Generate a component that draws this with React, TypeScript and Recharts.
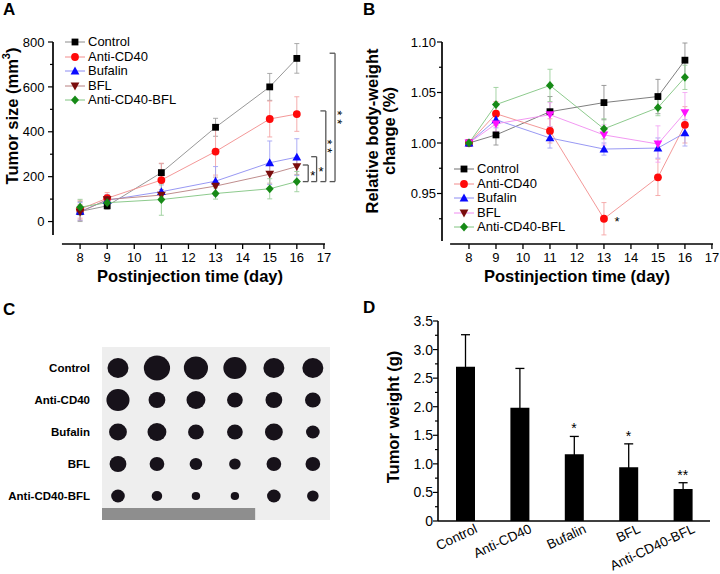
import React from 'react';
import {
  LineChart, Line, XAxis, YAxis, ZAxis, ErrorBar, ReferenceLine, ReferenceDot, ReferenceArea,
  Legend, ComposedChart, Bar, Scatter, ScatterChart, LabelList,
} from 'recharts';

const FONT = '"Liberation Sans", Arial, Helvetica, sans-serif';

// shared
const days = [8, 9, 11, 13, 15, 16];
const groups = ['Control', 'Anti-CD40', 'Bufalin', 'BFL', 'Anti-CD40-BFL'];

// A: tumor size (mm3), mean and error
const sizeControl = [45, 70, 218, 420, 600, 727];
const sizeAntiCD40 = [55, 104, 185, 312, 457, 479];
const sizeBufalin = [45, 95, 133, 180, 262, 287];
const sizeBFL = [42, 98, 118, 158, 211, 245];
const sizeCombo = [64, 84, 98, 125, 146, 178];
const sizeControlErr = [45, 15, 40, 40, 60, 66];
const sizeAntiCD40Err = [40, 25, 75, 105, 80, 77];
const sizeBufalinErr = [40, 25, 30, 65, 97, 82];
const sizeBFLErr = [35, 20, 25, 40, 40, 35];
const sizeComboErr = [35, 20, 70, 25, 45, 45];

// A: significance brackets at day 16 (x, top, label)
const bracketX = [17.41, 17.07, 16.73, 16.42];
const bracketTop = [750, 493, 289, 252];
const bracketBottom = 178;
const bracketStars = ['**', '**', '*', '*'];

// B: relative body weight
const bwControl = [1.0, 1.008, 1.031, 1.040, 1.046, 1.082];
const bwAntiCD40 = [1.0, 1.029, 1.012, 0.925, 0.966, 1.018];
const bwBufalin = [1.0, 1.023, 1.005, 0.994, 0.995, 1.010];
const bwBFL = [1.0, 1.019, 1.028, 1.008, 0.999, 1.030];
const bwCombo = [1.0, 1.038, 1.057, 1.014, 1.035, 1.065];
const bwControlErr = [0, 0.010, 0.015, 0.017, 0.017, 0.017];
const bwAntiCD40Err = [0, 0.012, 0.012, 0.016, 0.018, 0.018];
const bwBufalinErr = [0, 0.008, 0.010, 0.006, 0.010, 0.013];
const bwBFLErr = [0, 0.008, 0.012, 0.010, 0.018, 0.020];
const bwComboErr = [0, 0.017, 0.016, 0.010, 0.008, 0.012];

// C: tumor diameters (mm), 6 mice per group
const diamControl = [20, 25, 23, 22, 20, 20];
const diamAntiCD40 = [22, 16, 18, 15, 16, 15];
const diamBufalin = [17, 18, 15, 15, 17, 13];
const diamBFL = [16, 14, 12, 11, 14, 14];
const diamCombo = [13, 10, 8, 8, 13, 11];

// D: tumor weight (g)
const weightD = [2.70, 1.98, 1.17, 0.94, 0.56];
const weightErrD = [0.56, 0.69, 0.31, 0.41, 0.11];
const starsD = ['', '', '*', '*', '**'];

type Shape = 'square' | 'circle' | 'up' | 'down' | 'diamond';

const seriesA = [
  { key: 'control', name: 'Control', shape: 'square', color: '#000000', line: '#8c8c8c', err: '#a0a0a0', values: sizeControl, errors: sizeControlErr },
  { key: 'anti', name: 'Anti-CD40', shape: 'circle', color: '#ff0a0a', line: '#f28c8c', err: '#f4a4a4', values: sizeAntiCD40, errors: sizeAntiCD40Err },
  { key: 'bufalin', name: 'Bufalin', shape: 'up', color: '#0a0aff', line: '#8c8cf2', err: '#a4a4f4', values: sizeBufalin, errors: sizeBufalinErr },
  { key: 'bfl', name: 'BFL', shape: 'down', color: '#7a0c0c', line: '#b88080', err: '#c8a0a0', values: sizeBFL, errors: sizeBFLErr },
  { key: 'combo', name: 'Anti-CD40-BFL', shape: 'diamond', color: '#168a16', line: '#80c480', err: '#9ccf9c', values: sizeCombo, errors: sizeComboErr },
];

const seriesB = [
  { key: 'control', name: 'Control', shape: 'square', color: '#000000', legend: '#000000', line: '#707070', err: '#909090', values: bwControl, errors: bwControlErr },
  { key: 'anti', name: 'Anti-CD40', shape: 'circle', color: '#ff0a0a', legend: '#ff0a0a', line: '#f28c8c', err: '#f4a4a4', values: bwAntiCD40, errors: bwAntiCD40Err },
  { key: 'bufalin', name: 'Bufalin', shape: 'up', color: '#0a0aff', legend: '#0a0aff', line: '#8c8cf2', err: '#a4a4f4', values: bwBufalin, errors: bwBufalinErr },
  { key: 'bfl', name: 'BFL', shape: 'down', color: '#ff10ff', legend: '#7a0c0c', line: '#f08cf0', err: '#f4a8f4', values: bwBFL, errors: bwBFLErr },
  { key: 'combo', name: 'Anti-CD40-BFL', shape: 'diamond', color: '#168a16', legend: '#168a16', line: '#80c480', err: '#9ccf9c', values: bwCombo, errors: bwComboErr },
];

const buildRows = (series: typeof seriesA) =>
  days.map((day, i) => {
    const row: Record<string, number> = { day };
    series.forEach((s) => {
      row[s.key] = s.values[i];
      row[s.key + 'Err'] = s.errors[i];
    });
    return row;
  });

const rowsA = buildRows(seriesA);
const rowsB = buildRows(seriesB as any);

const diamByGroup = [diamControl, diamAntiCD40, diamBufalin, diamBFL, diamCombo];
const rowsC = diamByGroup.flatMap((list, g) =>
  list.map((d, c) => ({ col: c + 1, row: g + 1, area: d * d })),
);

const rowsD = groups.map((name, i) => ({
  name,
  weight: weightD[i],
  err: weightErrD[i],
  star: starsD[i],
  starY: weightD[i] + weightErrD[i],
}));

const xTicks = [8, 9, 10, 11, 12, 13, 14, 15, 16, 17];
const yTicksA = [0, 100, 200, 300, 400, 500, 600, 700, 800];
const yTicksB = [0.925, 0.95, 0.975, 1.0, 1.025, 1.05, 1.075, 1.1];
const yTicksD = [0, 0.25, 0.5, 0.75, 1, 1.25, 1.5, 1.75, 2, 2.25, 2.5, 2.75, 3, 3.25, 3.5];

function Marker({ cx, cy, shape, fill }: { cx: number; cy: number; shape: Shape | string; fill: string }) {
  if (cx == null || cy == null) return null;
  const s = 3.4;
  if (shape === 'square') return <rect x={cx - s} y={cy - s} width={2 * s} height={2 * s} fill={fill} />;
  if (shape === 'circle') return <circle cx={cx} cy={cy} r={s + 0.5} fill={fill} />;
  if (shape === 'up')
    return <polygon points={`${cx},${cy - s - 1} ${cx + s + 1},${cy + s} ${cx - s - 1},${cy + s}`} fill={fill} />;
  if (shape === 'down')
    return <polygon points={`${cx - s - 1},${cy - s} ${cx + s + 1},${cy - s} ${cx},${cy + s + 1}`} fill={fill} />;
  return <polygon points={`${cx},${cy - s - 1} ${cx + s + 0.6},${cy} ${cx},${cy + s + 1} ${cx - s - 0.6},${cy}`} fill={fill} />;
}

function LegendBox({ items }: { items: { name: string; shape: string; line: string; color: string; legend?: string }[] }) {
  return (
    <div style={{ fontFamily: FONT, fontSize: 13, color: '#000' }}>
      {items.map((it) => (
        <div key={it.name} style={{ display: 'flex', alignItems: 'center', height: 14.5 }}>
          <svg width={20} height={14} style={{ overflow: 'visible' }}>
            <line x1={0} x2={20} y1={7} y2={7} stroke={it.line} strokeWidth={1} />
            <Marker cx={10} cy={7} shape={it.shape} fill={it.legend || it.color} />
          </svg>
          <span style={{ marginLeft: 3, lineHeight: '14px' }}>{it.name}</span>
        </div>
      ))}
    </div>
  );
}

const XTick = (p: any) => (
  <g>
    <line x1={p.x} x2={p.x} y1={p.y} y2={p.y + 5} stroke="#000" strokeWidth={1.3} />
    <text x={p.x} y={p.y + 17.7} textAnchor="middle" fontSize={13} fontFamily={FONT} fill="#000">
      {p.payload.value}
    </text>
  </g>
);

const makeYTick = (fmt: (v: number) => string | null, gap: number, fontSize: number) => (p: any) => {
  const label = fmt(p.payload.value);
  return (
    <g>
      <line x1={p.x - (label ? 5 : 3)} x2={p.x} y1={p.y} y2={p.y} stroke="#000" strokeWidth={1.2} />
      {label && (
        <text x={p.x - gap} y={p.y} dy="0.36em" textAnchor="end" fontSize={fontSize} fontFamily={FONT} fill="#000">
          {label}
        </text>
      )}
    </g>
  );
};

const title = (x: number, y: number, text: React.ReactNode, rotate = false) => (
  <text
    x={x}
    y={y}
    textAnchor="middle"
    dominantBaseline={rotate ? 'central' : 'auto'}
    transform={rotate ? `rotate(-90, ${x}, ${y})` : undefined}
    fontSize={16.5}
    fontWeight="bold"
    fontFamily={FONT}
    fill="#000"
  >
    {text}
  </text>
);

function Stars({ vb, text }: { vb: any; text: string }) {
  const x = vb.x ?? Math.min(vb.x1, vb.x2);
  const y = vb.y ?? Math.min(vb.y1, vb.y2);
  const h = vb.height ?? Math.abs(vb.y2 - vb.y1);
  const mid = y + h / 2;
  if (text.length > 1) {
    // two stars stacked vertically: draw the text turned by 90 degrees
    const tx = x - 2.5;
    return (
      <text x={tx} y={mid} textAnchor="middle" fontSize={13} fontFamily={FONT} fill="#000" transform={`rotate(90, ${tx}, ${mid})`}>
        {text.split('').join(' ')}
      </text>
    );
  }
  return (
    <text x={x + 4.5} y={mid + 7} textAnchor="middle" fontSize={13} fontFamily={FONT} fill="#000">
      {text}
    </text>
  );
}

function PanelA() {
  return (
    <LineChart width={360} height={290} data={rowsA} margin={{ top: 42, right: 35, bottom: 16, left: 0 }}>
      <XAxis
        dataKey="day" type="number" domain={[7, 17.04]} allowDataOverflow ticks={xTicks} interval={0}
        axisLine={false} tickLine={false} tickSize={0} tickMargin={0} height={30} tick={XTick}
        label={{ content: () => title(190, 281.5, 'Postinjection time (day)') }}
      />
      <YAxis
        type="number" domain={[-100, 800]} allowDataOverflow ticks={yTicksA} interval={0} width={53}
        axisLine={false} tickLine={false} tickSize={0} tickMargin={0}
        tick={makeYTick((v) => (v % 200 === 0 ? String(v) : null), 8.5, 13)}
        label={{ content: () => title(12, 116, <>Tumor size (mm<tspan dy={-6} fontSize={11}>3</tspan><tspan dy={6}>)</tspan></>, true) }}
      />
      <ReferenceLine segment={[{ x: 7, y: -60 }, { x: 7, y: 800 }]} stroke="#000" strokeWidth={1.7} ifOverflow="visible" />
      <ReferenceLine segment={[{ x: 7.33, y: -100 }, { x: 17.04, y: -100 }]} stroke="#000" strokeWidth={1.7} ifOverflow="visible" />
      {bracketX.map((bx, i) => (
        <ReferenceLine
          key={`v${i}`}
          segment={[{ x: bx, y: bracketBottom }, { x: bx, y: bracketTop[i] }]}
          stroke="#555" strokeWidth={1.3} ifOverflow="visible"
          label={{ content: (lp: any) => <Stars vb={lp.viewBox} text={bracketStars[i]} /> }}
        />
      ))}
      {bracketX.map((bx, i) => (
        <ReferenceLine key={`t${i}`} segment={[{ x: bx - 0.2, y: bracketTop[i] }, { x: bx, y: bracketTop[i] }]} stroke="#555" strokeWidth={1.3} ifOverflow="visible" />
      ))}
      {bracketX.map((bx, i) => (
        <ReferenceLine key={`b${i}`} segment={[{ x: bx - 0.2, y: bracketBottom }, { x: bx, y: bracketBottom }]} stroke="#555" strokeWidth={1.3} ifOverflow="visible" />
      ))}
      {seriesA.map((s) => (
        <Line
          key={s.key} dataKey={s.key} name={s.name} type="linear" stroke={s.line} strokeWidth={0.9}
          isAnimationActive={false} activeDot={false}
          dot={(p: any) => <Marker key={`${s.key}${p.index}`} cx={p.cx} cy={p.cy} shape={s.shape} fill={s.color} />}
        >
          <ErrorBar dataKey={s.key + 'Err'} width={2.5} stroke={s.err} strokeWidth={0.9} direction="y" />
        </Line>
      ))}
      <Legend
        layout="vertical" align="center" verticalAlign="middle"
        wrapperStyle={{ left: 65, top: 35, width: 150, height: 'auto' }}
        content={() => <LegendBox items={seriesA} />}
      />
    </LineChart>
  );
}

function PanelB() {
  return (
    <LineChart width={360} height={290} data={rowsB} margin={{ top: 42, right: 7, bottom: 16, left: 0 }}>
      <XAxis
        dataKey="day" type="number" domain={[7, 17.04]} allowDataOverflow ticks={xTicks} interval={0}
        axisLine={false} tickLine={false} tickSize={0} tickMargin={0} height={30} tick={XTick}
        label={{ content: () => title(217, 281.5, 'Postinjection time (day)') }}
      />
      <YAxis
        type="number" domain={[0.9, 1.1]} allowDataOverflow ticks={yTicksB} interval={0} width={82}
        axisLine={false} tickLine={false} tickSize={0} tickMargin={0}
        tick={makeYTick((v) => (Math.round(v * 1000) % 50 === 0 ? v.toFixed(2) : null), 6, 13)}
        label={{
          content: () => (
            <g>
              {title(12, 131, 'Relative body-weight', true)}
              {title(29, 131, 'change (%)', true)}
            </g>
          ),
        }}
      />
      <ReferenceLine segment={[{ x: 7, y: 0.903 }, { x: 7, y: 1.1 }]} stroke="#000" strokeWidth={1.7} ifOverflow="visible" />
      <ReferenceLine segment={[{ x: 7.3, y: 0.9 }, { x: 17.04, y: 0.9 }]} stroke="#000" strokeWidth={1.7} ifOverflow="visible" />
      {seriesB.map((s) => (
        <Line
          key={s.key} dataKey={s.key} name={s.name} type="linear" stroke={s.line} strokeWidth={0.9}
          isAnimationActive={false} activeDot={false}
          dot={(p: any) => <Marker key={`${s.key}${p.index}`} cx={p.cx} cy={p.cy} shape={s.shape} fill={s.color} />}
        >
          <ErrorBar dataKey={s.key + 'Err'} width={2.5} stroke={s.err} strokeWidth={0.9} direction="y" />
        </Line>
      ))}
      <ReferenceDot
        x={13.48} y={0.925} r={0} fill="none" stroke="none" ifOverflow="visible"
        label={{
          content: (lp: any) => (
            <text x={lp.viewBox.x} y={lp.viewBox.y + 7} textAnchor="middle" fontSize={13} fontFamily={FONT} fill="#000">*</text>
          ),
        }}
      />
      <Legend
        layout="vertical" align="center" verticalAlign="middle"
        wrapperStyle={{ left: 94, top: 161.75, width: 150, height: 'auto' }}
        content={() => <LegendBox items={seriesB} />}
      />
    </LineChart>
  );
}

function PanelC() {
  return (
    <ScatterChart width={360} height={274} margin={{ top: 47, right: 30, bottom: 54, left: 0 }}>
      <XAxis dataKey="col" type="number" domain={[0.59, 6.44]} allowDataOverflow hide />
      <YAxis
        dataKey="row" type="number" domain={[0.344, 5.75]} allowDataOverflow reversed ticks={[1, 2, 3, 4, 5]}
        interval={0} width={102} axisLine={false} tickLine={false} tickSize={0} tickMargin={12}
        tickFormatter={(v: number) => groups[v - 1]}
        tick={{ fontSize: 11.5, fontWeight: 'bold', fill: '#000', fontFamily: FONT }}
      />
      <ZAxis dataKey="area" type="number" domain={[0, 625]} range={[0, 491]} />
      <ReferenceArea x1={0.59} x2={6.44} y1={0.344} y2={5.75} fill="#eeeeee" fillOpacity={1} stroke="none" ifOverflow="visible" />
      <ReferenceArea x1={0.59} x2={4.52} y1={5.375} y2={5.75} fill="#8e8e8e" fillOpacity={1} stroke="none" ifOverflow="visible" />
      <Scatter
        data={rowsC}
        isAnimationActive={false}
        shape={(p: any) => {
          const r = Math.sqrt((p.size ?? 200) / Math.PI);
          return <ellipse cx={p.cx} cy={p.cy} rx={r * 1.05} ry={r} fill="#17121a" />;
        }}
      />
    </ScatterChart>
  );
}

const DTick = (p: any) => {
  const x = p.x + 13;
  const y = p.y + 11;
  return (
    <text x={x} y={y} textAnchor="end" fontSize={13.5} fontFamily={FONT} fill="#000" transform={`rotate(-25, ${x}, ${y})`}>
      {p.payload.value}
    </text>
  );
};

function PanelD() {
  return (
    <ComposedChart width={360} height={274} data={rowsD} margin={{ top: 21, right: 10, bottom: 0, left: 0 }}>
      <XAxis
        dataKey="name" type="category" height={53} axisLine={{ stroke: '#000', strokeWidth: 1.6 }}
        tickLine={false} tickSize={0} tickMargin={0} interval={0} tick={DTick}
      />
      <YAxis
        type="number" domain={[0, 3.5]} allowDataOverflow ticks={yTicksD} interval={0} width={78}
        axisLine={{ stroke: '#000', strokeWidth: 1.6 }} tickLine={false} tickSize={0} tickMargin={0}
        tick={makeYTick((v) => (Math.round(v * 100) % 50 === 0 ? (v === 0 ? '0' : v.toFixed(1)) : null), 5, 14)}
        label={{ content: () => title(33, 117, 'Tumor weight (g)', true) }}
      />
      <Bar dataKey="weight" fill="#000" barSize={19} isAnimationActive={false}>
        <ErrorBar dataKey="err" width={4.5} stroke="#000" strokeWidth={1.3} direction="y" />
      </Bar>
      <Scatter dataKey="starY" isAnimationActive={false} shape={() => <g />}>
        <LabelList
          dataKey="star"
          content={(lp: any) => (
            <text x={lp.x + lp.width / 2} y={lp.y + lp.height / 2 - 3} textAnchor="middle" fontSize={14} fontFamily={FONT} fill="#000">
              {lp.value}
            </text>
          )}
        />
      </Scatter>
    </ComposedChart>
  );
}

const panelBox = (left: number, top: number, child: React.ReactNode) => (
  <div style={{ position: 'absolute', left, top }}>{child}</div>
);

export default function App() {
  return (
    <div style={{ position: 'absolute', left: 0, top: 0, width: 720, height: 574, background: '#fff', fontFamily: FONT, overflow: 'hidden' }}>
      {panelBox(0, 0, <PanelA />)}
      {panelBox(360, 0, <PanelB />)}
      {panelBox(0, 300, <PanelC />)}
      {panelBox(360, 300, <PanelD />)}
      <svg width={720} height={574} style={{ position: 'absolute', left: 0, top: 0, pointerEvents: 'none' }}>
        <g fontFamily={FONT} fontWeight="bold" fontSize={17} fill="#000">
          <text x={3} y={15}>A</text>
          <text x={363} y={15}>B</text>
          <text x={3} y={315}>C</text>
          <text x={363} y={313}>D</text>
        </g>
      </svg>
    </div>
  );
}
